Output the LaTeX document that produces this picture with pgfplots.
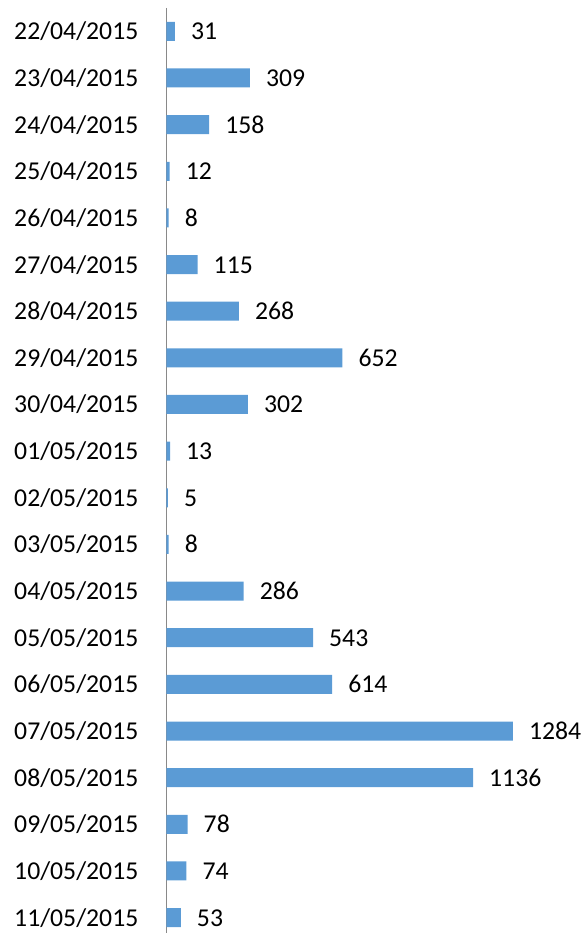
\documentclass[border=0pt]{standalone}
\usepackage{pgfplots}
\pgfplotsset{compat=1.18}
\usepackage{fontspec}
\setmainfont{Carlito}
\definecolor{BarBlue}{RGB}{91,155,213}
\definecolor{AxisGray}{RGB}{137,137,137}

\begin{document}
\begin{tikzpicture}
\begin{axis}[scale only axis, width=415.5pt, height=925pt,
	xbar, bar width=19pt, y dir=reverse,
	xmin=0, xmax=1540, ymin=-0.5, ymax=19.33,
	axis x line=none, axis y line=left, axis line style={-, draw=AxisGray, line width=1pt},
	ytick={0,...,19}, major tick length=0pt,
	yticklabels={22/04/2015,23/04/2015,24/04/2015,25/04/2015,26/04/2015,27/04/2015,
		28/04/2015,29/04/2015,30/04/2015,01/05/2015,02/05/2015,03/05/2015,04/05/2015,
		05/05/2015,06/05/2015,07/05/2015,08/05/2015,09/05/2015,10/05/2015,11/05/2015},
	yticklabel style={font=\fontsize{25.7}{30}\selectfont, anchor=base east,
		inner sep=0pt, xshift=-28pt, yshift=-8.5pt},
	/pgf/number format/assume math mode=true,
	/pgf/number format/1000 sep={},
	nodes near coords,
	nodes near coords style={font=\fontsize{25.7}{30}\selectfont, anchor=base west,
		inner sep=0pt, xshift=16pt, yshift=-8.5pt, text=black},
	clip=false]
	\addplot[fill=BarBlue, draw=none] coordinates {
		(31,0) (309,1) (158,2) (12,3) (8,4) (115,5) (268,6) (652,7) (302,8) (13,9)
		(5,10) (8,11) (286,12) (543,13) (614,14) (1284,15) (1136,16) (78,17) (74,18) (53,19)};
\end{axis}
\pgfresetboundingbox
\path[use as bounding box] (-166.5pt,0pt) rectangle (415.5pt,933pt);
\end{tikzpicture}
\end{document}
